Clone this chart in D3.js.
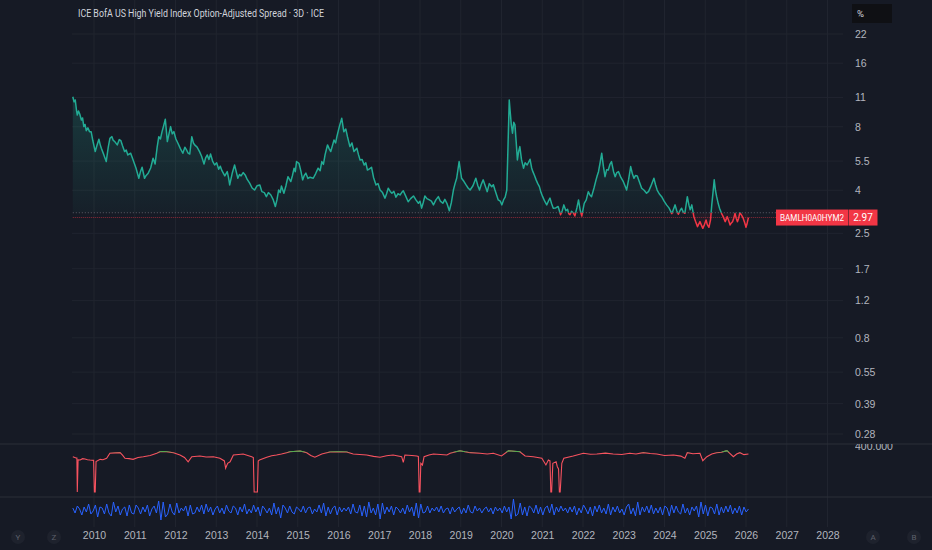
<!DOCTYPE html>
<html>
<head>
<meta charset="utf-8">
<script src="https://cdn.jsdelivr.net/npm/d3@7"></script>
<style>
html, body { margin: 0; padding: 0; background: #161a25; }
svg { display: block; font-family: Roboto, "Noto Sans", sans-serif; }
.axis text { fill: #b2b5be; }
</style>
</head>
<body>
<svg id="chart" width="932" height="550"></svg>
<script>
// ---- data ----
let titleText = 'ICE BofA US High Yield Index Option-Adjusted Spread \u00b7 3D \u00b7 ICE';
let symbol = 'BAMLH0A0HYM2';
let lastValue = 2.97;
let baseValue = 3.13;

let priceTicks = [22, 16, 11, 8, 5.5, 4, 2.5, 1.7, 1.2, 0.8, 0.55, 0.39, 0.28];
let priceTickLabels = ['22', '16', '11', '8', '5.5', '4', '2.5', '1.7', '1.2', '0.8', '0.55', '0.39', '0.28'];
let yearTicks = [2010, 2011, 2012, 2013, 2014, 2015, 2016, 2017, 2018, 2019, 2020, 2021, 2022, 2023, 2024, 2025, 2026, 2027, 2028];

// [year, spread %]
let spreadSeries = [
    [2009.48, 11.10], [2009.51, 10.50], [2009.54, 10.71], [2009.57, 9.60], [2009.59, 9.09],
    [2009.62, 9.50], [2009.65, 9.19], [2009.69, 8.61], [2009.72, 8.80], [2009.75, 8.01],
    [2009.78, 8.20], [2009.81, 7.66], [2009.85, 7.90], [2009.89, 7.58], [2009.93, 7.58],
    [2009.97, 6.90], [2010.03, 6.10], [2010.07, 6.50], [2010.12, 6.98], [2010.15, 6.60],
    [2010.18, 6.33], [2010.24, 5.90], [2010.30, 5.47], [2010.35, 6.40], [2010.39, 7.05],
    [2010.44, 7.18], [2010.47, 6.90], [2010.51, 6.80], [2010.57, 6.56], [2010.62, 6.95],
    [2010.66, 6.87], [2010.70, 6.50], [2010.75, 6.10], [2010.79, 6.20], [2010.83, 5.88],
    [2010.90, 5.99], [2010.96, 5.57], [2011.03, 5.10], [2011.10, 4.56], [2011.14, 4.90],
    [2011.18, 5.14], [2011.24, 4.56], [2011.28, 4.70], [2011.33, 4.82], [2011.39, 5.10],
    [2011.45, 5.67], [2011.50, 5.33], [2011.55, 6.40], [2011.59, 7.18], [2011.63, 7.00],
    [2011.67, 7.58], [2011.71, 8.10], [2011.75, 8.68], [2011.80, 6.80], [2011.84, 7.40],
    [2011.88, 8.01], [2011.92, 7.40], [2011.96, 7.58], [2012.01, 7.00], [2012.06, 6.68],
    [2012.12, 6.30], [2012.18, 5.99], [2012.23, 6.40], [2012.27, 6.21], [2012.31, 6.00],
    [2012.35, 5.94], [2012.40, 7.18], [2012.44, 6.70], [2012.47, 6.56], [2012.53, 6.40],
    [2012.59, 6.10], [2012.64, 5.80], [2012.70, 5.33], [2012.74, 5.70], [2012.78, 5.88],
    [2012.82, 5.60], [2012.86, 5.94], [2012.91, 5.50], [2012.96, 5.27], [2013.01, 5.40],
    [2013.06, 5.03], [2013.10, 5.20], [2013.14, 4.95], [2013.21, 4.68], [2013.27, 4.90],
    [2013.30, 4.60], [2013.33, 4.24], [2013.39, 4.80], [2013.45, 5.27], [2013.49, 4.90],
    [2013.53, 4.56], [2013.57, 4.75], [2013.61, 4.68], [2013.66, 4.85], [2013.71, 4.73],
    [2013.76, 4.50], [2013.82, 4.32], [2013.88, 4.10], [2013.94, 4.01], [2014.00, 4.20],
    [2014.07, 4.24], [2014.12, 3.94], [2014.18, 3.90], [2014.23, 3.73], [2014.28, 3.90],
    [2014.34, 3.80], [2014.40, 3.60], [2014.45, 3.35], [2014.49, 3.60], [2014.53, 4.01],
    [2014.57, 3.90], [2014.60, 4.19], [2014.66, 3.87], [2014.71, 4.20], [2014.76, 4.64],
    [2014.83, 4.40], [2014.87, 4.70], [2014.91, 5.09], [2014.94, 4.90], [2014.97, 5.47],
    [2015.03, 5.37], [2015.08, 4.90], [2015.12, 4.48], [2015.16, 4.70], [2015.20, 4.82],
    [2015.25, 4.55], [2015.30, 4.61], [2015.38, 4.56], [2015.44, 4.80], [2015.50, 5.09],
    [2015.55, 4.95], [2015.59, 5.47], [2015.63, 5.30], [2015.67, 5.88], [2015.73, 6.56],
    [2015.77, 6.30], [2015.81, 6.10], [2015.85, 6.50], [2015.89, 6.92], [2015.93, 6.70],
    [2015.96, 7.18], [2016.02, 8.01], [2016.08, 8.77], [2016.13, 7.58], [2016.18, 7.80],
    [2016.22, 7.18], [2016.28, 6.44], [2016.33, 6.70], [2016.38, 6.10], [2016.45, 6.33],
    [2016.49, 5.90], [2016.53, 5.57], [2016.58, 5.60], [2016.63, 5.27], [2016.67, 5.40],
    [2016.71, 4.99], [2016.76, 5.05], [2016.81, 5.14], [2016.86, 4.60], [2016.92, 4.24],
    [2016.97, 4.30], [2017.02, 4.01], [2017.08, 3.90], [2017.14, 3.67], [2017.18, 3.85],
    [2017.22, 4.09], [2017.27, 3.95], [2017.31, 3.87], [2017.36, 3.95], [2017.41, 3.71],
    [2017.46, 3.85], [2017.51, 3.80], [2017.55, 3.90], [2017.59, 3.98], [2017.65, 3.75],
    [2017.71, 3.53], [2017.77, 3.65], [2017.84, 3.76], [2017.90, 3.60], [2017.96, 3.47],
    [2018.00, 3.55], [2018.04, 3.29], [2018.08, 3.50], [2018.12, 3.76], [2018.17, 3.65],
    [2018.23, 3.60], [2018.28, 3.55], [2018.33, 3.41], [2018.39, 3.60], [2018.45, 3.73],
    [2018.50, 3.55], [2018.56, 3.47], [2018.61, 3.62], [2018.66, 3.47], [2018.72, 3.20],
    [2018.77, 3.50], [2018.82, 4.01], [2018.86, 4.30], [2018.90, 4.56], [2018.96, 5.47],
    [2019.02, 4.56], [2019.08, 4.40], [2019.13, 4.24], [2019.18, 4.10], [2019.23, 4.01],
    [2019.30, 4.20], [2019.37, 4.56], [2019.42, 4.20], [2019.46, 4.01], [2019.50, 4.25],
    [2019.55, 4.48], [2019.60, 4.20], [2019.65, 3.94], [2019.70, 4.30], [2019.76, 4.16],
    [2019.80, 4.25], [2019.84, 4.01], [2019.88, 3.80], [2019.92, 3.60], [2019.97, 3.55],
    [2020.01, 3.41], [2020.05, 3.60], [2020.09, 3.71], [2020.13, 4.01], [2020.16, 6.50],
    [2020.19, 10.70], [2020.21, 9.60], [2020.24, 8.20], [2020.27, 7.45], [2020.30, 8.40],
    [2020.33, 8.16], [2020.36, 6.80], [2020.39, 5.57], [2020.42, 6.10], [2020.45, 6.44],
    [2020.49, 5.60], [2020.54, 5.09], [2020.58, 5.40], [2020.63, 5.27], [2020.70, 5.61],
    [2020.74, 5.10], [2020.77, 4.90], [2020.81, 4.70], [2020.85, 4.48], [2020.89, 4.30],
    [2020.93, 4.16], [2020.97, 3.90], [2021.01, 3.73], [2021.06, 3.55], [2021.11, 3.41],
    [2021.15, 3.55], [2021.19, 3.67], [2021.23, 3.45], [2021.27, 3.29], [2021.33, 3.30],
    [2021.39, 3.35], [2021.45, 3.06], [2021.49, 3.20], [2021.53, 3.41], [2021.58, 3.20],
    [2021.62, 3.25], [2021.65, 3.10], [2021.68, 3.06], [2021.72, 3.18], [2021.76, 3.13],
    [2021.80, 3.02], [2021.85, 3.30], [2021.89, 3.60], [2021.93, 3.23], [2021.97, 3.02],
    [2022.03, 3.47], [2022.08, 3.60], [2022.13, 3.94], [2022.17, 3.80], [2022.21, 3.73],
    [2022.27, 4.10], [2022.32, 4.48], [2022.35, 4.70], [2022.38, 4.90], [2022.42, 5.40],
    [2022.46, 5.99], [2022.50, 5.20], [2022.54, 4.64], [2022.58, 5.00], [2022.62, 4.99],
    [2022.66, 5.30], [2022.70, 5.47], [2022.75, 4.90], [2022.79, 4.64], [2022.83, 4.85],
    [2022.87, 4.90], [2022.93, 4.60], [2022.99, 4.39], [2023.03, 4.20], [2023.07, 4.01],
    [2023.12, 4.50], [2023.17, 5.18], [2023.21, 4.80], [2023.25, 4.56], [2023.29, 4.70],
    [2023.33, 4.68], [2023.38, 4.40], [2023.44, 4.09], [2023.50, 4.00], [2023.56, 3.87],
    [2023.61, 3.95], [2023.66, 4.16], [2023.70, 4.35], [2023.74, 4.56], [2023.78, 4.25],
    [2023.82, 4.01], [2023.87, 3.85], [2023.93, 3.73], [2023.99, 3.55], [2024.05, 3.41],
    [2024.11, 3.30], [2024.18, 3.10], [2024.22, 3.25], [2024.26, 3.41], [2024.30, 3.20],
    [2024.34, 3.08], [2024.38, 3.20], [2024.42, 3.29], [2024.46, 3.15], [2024.50, 3.11],
    [2024.56, 3.73], [2024.60, 3.40], [2024.63, 3.23], [2024.67, 3.41], [2024.72, 3.00],
    [2024.76, 2.85], [2024.81, 2.69], [2024.87, 2.84], [2024.90, 2.75], [2024.94, 2.64],
    [2024.98, 2.75], [2025.02, 2.89], [2025.05, 2.75], [2025.09, 2.67], [2025.13, 2.90],
    [2025.16, 3.41], [2025.19, 3.90], [2025.22, 4.48], [2025.25, 4.00], [2025.28, 3.73],
    [2025.32, 3.45], [2025.35, 3.29], [2025.40, 3.11], [2025.44, 3.00], [2025.49, 2.84],
    [2025.54, 3.00], [2025.58, 2.85], [2025.61, 2.74], [2025.64, 2.80], [2025.67, 2.84],
    [2025.70, 2.95], [2025.73, 3.11], [2025.76, 2.95], [2025.79, 2.84], [2025.82, 2.95],
    [2025.85, 3.13], [2025.89, 3.05], [2025.93, 2.95], [2025.97, 2.80], [2026.00, 2.67],
    [2026.03, 2.80], [2026.06, 2.97]
];

// first indicator pane (red / green line): [year, value]
let oscSeries = [
    [2009.48, 307], [2009.56, 296], [2009.58, 296], [2009.59, 0], [2009.61, 280],
    [2009.66, 278], [2009.72, 290], [2009.78, 287], [2009.84, 281], [2009.90, 278],
    [2009.99, 275], [2010.01, 0], [2010.03, 0], [2010.05, 265], [2010.15, 284],
    [2010.22, 280], [2010.31, 293], [2010.39, 337], [2010.52, 340], [2010.64, 342],
    [2010.70, 320], [2010.76, 293], [2010.86, 290], [2010.96, 284], [2011.08, 300],
    [2011.21, 307], [2011.38, 318], [2011.54, 337], [2011.62, 350], [2011.70, 352],
    [2011.78, 350], [2011.95, 342], [2012.11, 322], [2012.22, 300], [2012.31, 263],
    [2012.40, 307], [2012.60, 313], [2012.75, 305], [2012.93, 307], [2013.09, 293],
    [2013.20, 270], [2013.23, 206], [2013.28, 250], [2013.34, 263], [2013.42, 322],
    [2013.55, 326], [2013.66, 330], [2013.87, 307], [2013.91, 300], [2013.93, 0],
    [2014.01, 0], [2014.03, 270], [2014.06, 278], [2014.24, 302], [2014.36, 315],
    [2014.48, 322], [2014.60, 330], [2014.73, 342], [2014.81, 350], [2015.06, 357],
    [2015.22, 342], [2015.32, 318], [2015.42, 302], [2015.59, 330], [2015.79, 348],
    [2016.00, 350], [2016.20, 348], [2016.36, 330], [2016.52, 326], [2016.69, 322],
    [2016.86, 310], [2017.02, 302], [2017.18, 315], [2017.34, 322], [2017.55, 307],
    [2017.59, 258], [2017.63, 322], [2017.80, 318], [2017.92, 313], [2017.96, 310],
    [2017.98, 0], [2018.00, 0], [2018.02, 250], [2018.06, 235], [2018.10, 307],
    [2018.22, 322], [2018.33, 330], [2018.50, 326], [2018.66, 322], [2018.74, 337],
    [2018.98, 359], [2019.10, 350], [2019.23, 342], [2019.47, 337], [2019.65, 330],
    [2019.80, 337], [2020.00, 313], [2020.17, 359], [2020.45, 350], [2020.58, 313],
    [2020.78, 307], [2020.99, 293], [2021.09, 235], [2021.15, 278], [2021.19, 270],
    [2021.21, 0], [2021.23, 0], [2021.26, 250], [2021.34, 263], [2021.37, 220],
    [2021.40, 200], [2021.42, 0], [2021.44, 0], [2021.48, 250], [2021.53, 293],
    [2021.76, 313], [2022.01, 337], [2022.18, 328], [2022.34, 330], [2022.55, 338],
    [2022.74, 330], [2022.95, 326], [2023.15, 337], [2023.30, 330], [2023.48, 342],
    [2023.65, 335], [2023.81, 330], [2024.00, 318], [2024.22, 322], [2024.40, 312],
    [2024.50, 293], [2024.56, 342], [2024.70, 333], [2024.87, 337], [2024.94, 272],
    [2025.04, 307], [2025.16, 330], [2025.28, 342], [2025.40, 345], [2025.53, 359],
    [2025.69, 307], [2025.77, 330], [2025.85, 342], [2025.95, 325], [2026.06, 330]
];
let oscGreenLevel = 345;

// second indicator pane (blue oscillator), evenly spaced bars
let blueStart = 2009.48;
let blueEnd = 2026.06;
let blueValues = [
    2, -3, 4, 1, -5, 3, -2, 6, -4, -1, 5, -7, 3, 2, -4, 6, -3, -6, 8, -2,
    4, -5, 1, 3, -6, 5, -3, -4, 5, 2, -4, 3, -2, 5, -6, 1, 4, -3, 9, -10,
    8, -7, -4, 6, -2, -5, 7, -3, 2, -1, 4, -6, 5, -4, -3, 3, -2, 5, -4, 6,
    -2, 3, -5, 1, 4, -3, 2, -4, 5, -1, -3, 4, 2, -5, 3, -2, 6, -4, 1, -3,
    5, -2, 3, -6, 4, 1, -3, 2, -5, 7, -4, 3, -8, 5, 2, -3, 4, -2, -4, 3,
    1, -2, 4, -3, 2, 3, -4, 1, -2, 5, -3, 7, -6, 3, -4, 2, 4, -5, 3, -2,
    2, -1, 3, -4, 6, -2, -3, 5, -6, 4, -7, 8, -3, 2, -5, 6, -9, 7, -4, 3,
    -2, 4, -5, 3, 1, -3, 2, -4, 5, -2, 3, -6, 7, -8, 6, -3, -2, 4, -3, 2,
    -1, 3, -2, 4, -3, 1, 2, -4, 3, -2, 1, 3, -4, 2, -3, 5, -2, -3, 4, -1,
    2, -3, 1, 3, -2, 2, -4, 3, -1, 2, -3, 4, -2, 3, -9, 11, -6, -4, 7, -5,
    3, -6, 4, 2, -3, 5, -4, 3, -5, 2, 4, -3, 6, -5, 3, -2, 4, -1, 2, -3,
    3, -2, 4, -5, 2, -3, 5, 1, -4, 3, -6, 4, -2, 5, -3, 2, -4, 6, -5, 3,
    -2, 4, -3, 1, -5, 3, 6, -4, 2, -6, 8, -5, 3, -2, 4, -3, 5, -4, 2, -3,
    3, -5, 4, 2, -6, 5, -3, 4, -2, -4, 6, -3, 2, -5, 3, -1, 4, -7, 8, -4,
    5, -6, 3, 2, -4, 6, -5, 3, -3, 4, -2, 5, -4, 2, -3, 4, -5, 3, -2, 1
];

// ---- layout ----
let width = 932;
let paneRight = 843;
let gridLeft = 72;
let mainBottom = 444;
let oscBottom = 497;
let blueBottom = 527;

let green = '#22ab94';
let red = '#f23645';
let gridColor = '#20242f';

let svg = d3.select('#chart');
let defs = svg.append('defs');

let x = d3.scaleLinear().domain([2010, 2028]).range([94, 827.5]);
let y = d3.scaleLog().domain([0.28, 22]).range([434, 34]);
let yOsc = d3.scaleLinear().domain([0, 400]).range([492, 446]);
let yBlue = d3.scaleLinear().domain([-12, 12]).range([522, 498]);

let spread = spreadSeries.map(d => ({ t: d[0], v: d[1] }));
let osc = oscSeries.map(d => ({ t: d[0], v: d[1] }));
let blueStep = (blueEnd - blueStart) / (blueValues.length - 1);
let blue = blueValues.map((v, i) => ({ t: blueStart + i * blueStep, v: v }));

let yBase = y(baseValue);

// clip paths
function addClip(id, x0, y0, w, h) {
    defs.append('clipPath').attr('id', id)
        .append('rect').attr('x', x0).attr('y', y0).attr('width', w).attr('height', h);
}
addClip('clip-above', 0, 0, paneRight, yBase);
addClip('clip-below', 0, yBase, paneRight, mainBottom - yBase);
addClip('clip-osc', 0, mainBottom, width, oscBottom - mainBottom);
addClip('clip-osc-green', 0, mainBottom, paneRight, yOsc(oscGreenLevel) - mainBottom);
addClip('clip-blue', 0, oscBottom, paneRight, blueBottom - oscBottom);

let grad = defs.append('linearGradient').attr('id', 'fill-up')
    .attr('gradientUnits', 'userSpaceOnUse')
    .attr('x1', 0).attr('x2', 0).attr('y1', y(11)).attr('y2', yBase);
grad.append('stop').attr('offset', 0).attr('stop-color', green).attr('stop-opacity', 0.22);
grad.append('stop').attr('offset', 1).attr('stop-color', green).attr('stop-opacity', 0.04);

// ---- grid ----
let grid = svg.append('g');
grid.selectAll('line.h').data(priceTicks).join('line')
    .attr('class', 'h')
    .attr('x1', gridLeft).attr('x2', paneRight)
    .attr('y1', d => y(d)).attr('y2', d => y(d))
    .attr('stroke', gridColor).attr('stroke-width', 1);
grid.selectAll('line.v').data(yearTicks).join('line')
    .attr('class', 'v')
    .attr('x1', d => x(d)).attr('x2', d => x(d))
    .attr('y1', 0).attr('y2', blueBottom)
    .attr('stroke', gridColor).attr('stroke-width', 1);

// pane separators
[mainBottom, oscBottom].forEach(py => {
    svg.append('line')
        .attr('x1', 0).attr('x2', width).attr('y1', py).attr('y2', py)
        .attr('stroke', '#2a2e39').attr('stroke-width', 1);
});

// ---- main series (baseline style) ----
let area = d3.area().x(d => x(d.t)).y0(yBase).y1(d => y(d.v));
let line = d3.line().x(d => x(d.t)).y(d => y(d.v));

svg.append('path').datum(spread)
    .attr('clip-path', 'url(#clip-above)')
    .attr('d', area).attr('fill', 'url(#fill-up)');
svg.append('path').datum(spread)
    .attr('clip-path', 'url(#clip-below)')
    .attr('d', area).attr('fill', red).attr('fill-opacity', 0.06);

svg.append('line')
    .attr('x1', x(spread[0].t)).attr('x2', 776)
    .attr('y1', yBase).attr('y2', yBase)
    .attr('stroke', '#787b86').attr('stroke-opacity', 0.7)
    .attr('stroke-dasharray', '1,2');
svg.append('line')
    .attr('x1', x(spread[0].t)).attr('x2', 776)
    .attr('y1', y(lastValue)).attr('y2', y(lastValue))
    .attr('stroke', red).attr('stroke-opacity', 0.55)
    .attr('stroke-dasharray', '1,1');

svg.append('path').datum(spread)
    .attr('clip-path', 'url(#clip-above)')
    .attr('d', line).attr('fill', 'none')
    .attr('stroke', green).attr('stroke-width', 1.5).attr('stroke-linejoin', 'round');
svg.append('path').datum(spread)
    .attr('clip-path', 'url(#clip-below)')
    .attr('d', line).attr('fill', 'none')
    .attr('stroke', red).attr('stroke-width', 1.5).attr('stroke-linejoin', 'round');

// ---- indicator panes ----
let oscLine = d3.line().x(d => x(d.t)).y(d => yOsc(d.v));
svg.append('path').datum(osc)
    .attr('clip-path', 'url(#clip-osc)')
    .attr('d', oscLine).attr('fill', 'none')
    .attr('stroke', '#f7525f').attr('stroke-width', 1.1);
svg.append('path').datum(osc)
    .attr('clip-path', 'url(#clip-osc-green)')
    .attr('d', oscLine).attr('fill', 'none')
    .attr('stroke', '#4caf50').attr('stroke-width', 1.1);

let blueLine = d3.line().x(d => x(d.t)).y(d => yBlue(d.v));
svg.append('path').datum(blue)
    .attr('clip-path', 'url(#clip-blue)')
    .attr('d', blueLine).attr('fill', 'none')
    .attr('stroke', '#2962ff').attr('stroke-width', 1);

// ---- axes ----
let yAxis = svg.append('g').attr('class', 'axis')
    .attr('transform', 'translate(855,0)')
    .call(d3.axisRight(y).tickValues(priceTicks)
        .tickFormat((d, i) => priceTickLabels[i]).tickSize(0).tickPadding(0));
yAxis.select('.domain').remove();
yAxis.selectAll('text').attr('font-size', 10.5);

let oscAxis = svg.append('g').attr('class', 'axis')
    .attr('clip-path', 'url(#clip-osc)')
    .attr('transform', 'translate(855,0)')
    .call(d3.axisRight(yOsc).tickValues([400])
        .tickFormat(d3.format('.3f')).tickSize(0).tickPadding(0));
oscAxis.select('.domain').remove();
oscAxis.selectAll('text').attr('font-size', 10.5);

let xAxis = svg.append('g').attr('class', 'axis')
    .attr('transform', 'translate(0,529)')
    .call(d3.axisBottom(x).tickValues(yearTicks)
        .tickFormat(d3.format('d')).tickSize(0).tickPadding(3));
xAxis.select('.domain').remove();
xAxis.selectAll('text').attr('font-size', 10.5).attr('fill', '#d1d4dc');

// ---- title ----
svg.append('text')
    .attr('x', 78).attr('y', 17)
    .attr('font-size', 11)
    .attr('fill', '#d1d4dc')
    .attr('textLength', 246).attr('lengthAdjust', 'spacingAndGlyphs')
    .text(titleText);

// unit box on the price scale
svg.append('rect')
    .attr('x', 852).attr('y', 4).attr('width', 40).attr('height', 19)
    .attr('fill', '#0f1014');
svg.append('text')
    .attr('x', 857).attr('y', 17)
    .attr('font-size', 9.5).attr('fill', '#d1d4dc')
    .text('%');

// last value label
let ly = y(lastValue);
svg.append('rect')
    .attr('x', 776).attr('y', ly - 8).attr('width', 72.5).attr('height', 16)
    .attr('fill', red);
svg.append('rect')
    .attr('x', 849).attr('y', ly - 8).attr('width', 28.5).attr('height', 16)
    .attr('fill', red);
svg.append('text')
    .attr('x', 812).attr('y', ly + 3.5)
    .attr('text-anchor', 'middle')
    .attr('font-size', 9.5).attr('fill', '#ffffff')
    .attr('textLength', 64).attr('lengthAdjust', 'spacingAndGlyphs')
    .text(symbol);
svg.append('text')
    .attr('x', 863).attr('y', ly + 3.5)
    .attr('text-anchor', 'middle')
    .attr('font-size', 10).attr('fill', '#ffffff')
    .text(d3.format('.2f')(lastValue));

// small round buttons on the time scale
let buttons = [
    { cx: 18, label: 'Y' }, { cx: 54, label: 'Z' },
    { cx: 873, label: 'A' }, { cx: 914, label: 'B' }
];
let btn = svg.selectAll('g.btn').data(buttons).join('g')
    .attr('class', 'btn')
    .attr('transform', d => 'translate(' + d.cx + ',537)');
btn.append('circle').attr('r', 7).attr('fill', '#1e222d');
btn.append('text')
    .attr('text-anchor', 'middle').attr('dy', '0.35em')
    .attr('font-size', 8).attr('fill', '#5d606b')
    .text(d => d.label);
</script>
</body>
</html>
